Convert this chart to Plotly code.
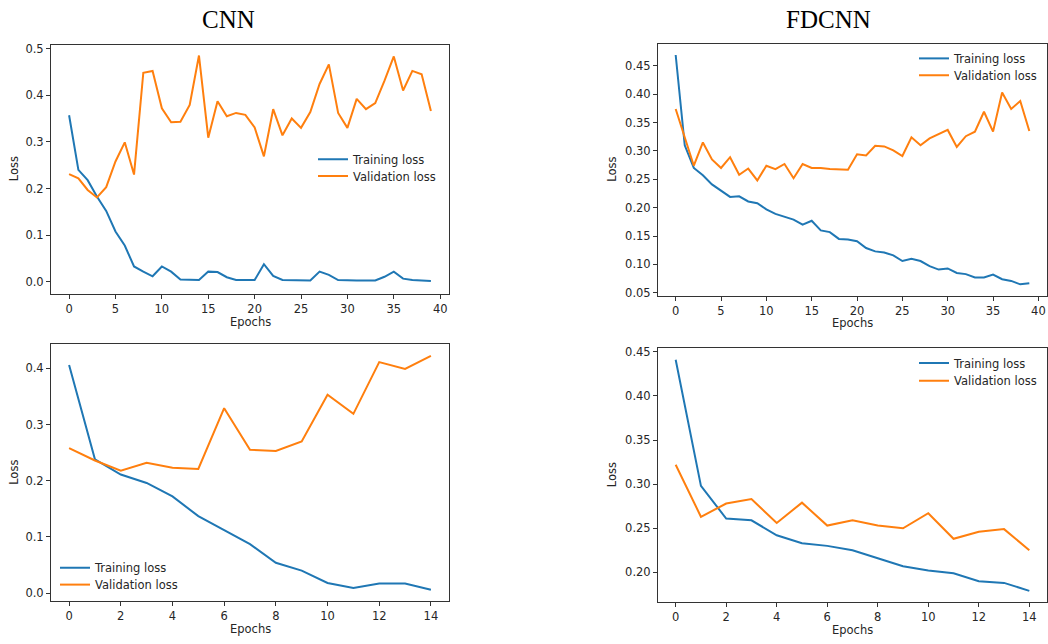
import plotly.graph_objects as go

# ---------------- data ----------------
epochs_40 = list(range(40))
epochs_15 = list(range(15))

cnn40_train = [0.357, 0.240, 0.218, 0.183, 0.152, 0.108, 0.078, 0.033, 0.022, 0.012,
               0.033, 0.022, 0.005, 0.004, 0.004, 0.022, 0.021, 0.010, 0.004, 0.004,
               0.004, 0.038, 0.013, 0.004, 0.004, 0.004, 0.003, 0.022, 0.015, 0.004,
               0.003, 0.003, 0.003, 0.003, 0.011, 0.022, 0.007, 0.004, 0.003, 0.002]
cnn40_val = [0.231, 0.222, 0.197, 0.181, 0.203, 0.258, 0.299, 0.230, 0.448, 0.452,
             0.372, 0.342, 0.343, 0.379, 0.485, 0.309, 0.387, 0.355, 0.362, 0.358,
             0.331, 0.269, 0.370, 0.314, 0.350, 0.330, 0.364, 0.424, 0.466, 0.362,
             0.330, 0.392, 0.370, 0.383, 0.431, 0.483, 0.410, 0.452, 0.445, 0.366]

fd40_train = [0.469, 0.310, 0.270, 0.257, 0.241, 0.230, 0.219, 0.220, 0.211, 0.208,
              0.197, 0.189, 0.184, 0.179, 0.170, 0.177, 0.160, 0.157, 0.145, 0.144,
              0.141, 0.129, 0.123, 0.121, 0.116, 0.106, 0.110, 0.106, 0.097, 0.091,
              0.093, 0.085, 0.083, 0.077, 0.077, 0.082, 0.074, 0.071, 0.065, 0.067]
fd40_val = [0.374, 0.325, 0.274, 0.315, 0.285, 0.270, 0.289, 0.258, 0.269, 0.248,
            0.274, 0.268, 0.277, 0.252, 0.277, 0.270, 0.270, 0.268, 0.268, 0.267,
            0.294, 0.292, 0.309, 0.308, 0.301, 0.291, 0.324, 0.310, 0.322, 0.330,
            0.337, 0.307, 0.326, 0.334, 0.369, 0.334, 0.403, 0.374, 0.388, 0.335]

cnn15_train = [0.406, 0.238, 0.211, 0.196, 0.172, 0.137, 0.112, 0.087, 0.054, 0.040,
               0.018, 0.009, 0.017, 0.017, 0.006]
cnn15_val = [0.258, 0.236, 0.218, 0.232, 0.223, 0.221, 0.329, 0.255, 0.253, 0.270,
             0.353, 0.319, 0.411, 0.399, 0.422]

fd15_train = [0.441, 0.298, 0.261, 0.259, 0.242, 0.233, 0.230, 0.225, 0.216, 0.207,
              0.202, 0.199, 0.190, 0.188, 0.179]
fd15_val = [0.322, 0.263, 0.278, 0.283, 0.256, 0.279, 0.253, 0.259, 0.253, 0.250,
            0.267, 0.238, 0.246, 0.249, 0.225]

series_names = ["Training loss", "Validation loss"]
column_titles = ["CNN", "FDCNN"]
x_label = "Epochs"
y_label = "Loss"

# ---------------- style ----------------
W, H = 1048, 644
BLUE, ORANGE = "#1f77b4", "#ff7f0e"
FONT = "DejaVu Sans"
FS = 11.5
TXT = "#262626"
FRAME = "#333333"


def px_x(p):
    return p / W


def px_y(p):
    return 1 - p / H


panels = [
    dict(x=epochs_40, tr=cnn40_train, va=cnn40_val,
         xd=(51, 449), yd=(42, 294), xr=(-1.95, 40.95), yr=(-0.0255, 0.5085),
         xt=list(range(0, 41, 5)), yt=[0.0, 0.1, 0.2, 0.3, 0.4, 0.5], yf=".1f",
         leg=(313, 158, 175), ylab=14),
    dict(x=epochs_40, tr=fd40_train, va=fd40_val,
         xd=(658, 1047), yd=(41, 296), xr=(-1.95, 40.95), yr=(0.0448, 0.4892),
         xt=list(range(0, 41, 5)), yt=[0.05, 0.10, 0.15, 0.20, 0.25, 0.30, 0.35, 0.40, 0.45], yf=".2f",
         leg=(914, 56, 73), ylab=612),
    dict(x=epochs_15, tr=cnn15_train, va=cnn15_val,
         xd=(51, 449), yd=(345, 605), xr=(-0.7, 14.7), yr=(-0.0148, 0.4428),
         xt=list(range(0, 15, 2)), yt=[0.0, 0.1, 0.2, 0.3, 0.4], yf=".1f",
         leg=(55, 571, 588), ylab=14),
    dict(x=epochs_15, tr=fd15_train, va=fd15_val,
         xd=(658, 1047), yd=(349, 606), xr=(-0.7, 14.7), yr=(0.1659, 0.4541),
         xt=list(range(0, 15, 2)), yt=[0.20, 0.25, 0.30, 0.35, 0.40, 0.45], yf=".2f",
         leg=(914, 364, 382), ylab=612),
]

fig = go.Figure()
layout = dict(
    width=W, height=H, margin=dict(l=0, r=0, t=0, b=0),
    paper_bgcolor="white", plot_bgcolor="white",
    font=dict(family=FONT, size=FS, color=TXT),
    showlegend=True,
)
annotations = []
leg_count = 0

for i, p in enumerate(panels):
    n = "" if i == 0 else str(i + 1)
    xa, ya = "x" + n, "y" + n
    for k, (vals, color, name) in enumerate(((p["tr"], BLUE, series_names[0]),
                                             (p["va"], ORANGE, series_names[1]))):
        leg_count += 1
        leg = "legend" if leg_count == 1 else "legend" + str(leg_count)
        fig.add_trace(go.Scatter(x=p["x"], y=vals, mode="lines", name=name,
                                 line=dict(color=color, width=2),
                                 xaxis=xa, yaxis=ya, legend=leg, hoverinfo="skip"))
        layout[leg] = dict(x=px_x(p["leg"][0]), y=px_y(p["leg"][1 + k]),
                           xanchor="left", yanchor="middle", bgcolor="rgba(0,0,0,0)",
                           borderwidth=0, font=dict(family=FONT, size=FS, color=TXT))
    common = dict(showgrid=False, zeroline=False, showline=True, mirror=True,
                  linecolor=FRAME, linewidth=1, ticks="outside", ticklen=4,
                  tickcolor=FRAME, tickwidth=1,
                  tickfont=dict(family=FONT, size=FS, color=TXT))
    layout["xaxis" + n] = dict(common, domain=[px_x(p["xd"][0]), px_x(p["xd"][1])],
                               range=list(p["xr"]), tickvals=p["xt"],
                               anchor=ya)
    layout["yaxis" + n] = dict(common, domain=[px_y(p["yd"][1]), px_y(p["yd"][0])],
                               range=list(p["yr"]), tickvals=p["yt"], tickformat=p["yf"],
                               anchor=xa)
    xc = (p["xd"][0] + p["xd"][1]) / 2
    annotations.append(dict(text=x_label, x=px_x(xc), y=px_y(p["yd"][1] + 28),
                            xref="paper", yref="paper", showarrow=False,
                            xanchor="center", yanchor="middle",
                            font=dict(family=FONT, size=FS, color=TXT)))
    yc = (p["yd"][0] + p["yd"][1]) / 2
    annotations.append(dict(text=y_label, x=px_x(p["ylab"]), y=px_y(yc),
                            xref="paper", yref="paper", showarrow=False, textangle=-90,
                            xanchor="center", yanchor="middle",
                            font=dict(family=FONT, size=FS, color=TXT)))

for title, cx in zip(column_titles, (228, 828)):
    annotations.append(dict(text=title, x=px_x(cx), y=px_y(17), xref="paper", yref="paper",
                            showarrow=False, xanchor="center", yanchor="middle",
                            font=dict(family="Liberation Serif", size=25, color="black")))

layout["annotations"] = annotations
fig.update_layout(**layout)
fig.write_html("out.html", config={"displayModeBar": False},
               post_script="document.body.style.margin='0';document.body.style.overflow='hidden';")
